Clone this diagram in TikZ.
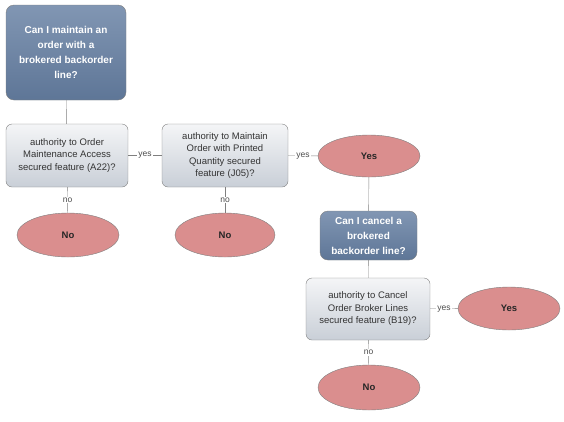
\documentclass[tikz,border=0pt]{standalone}
\usepackage{fontspec}
\setmainfont{Liberation Sans}
\usetikzlibrary{shapes.geometric}
\definecolor{qtop}{HTML}{8196B3}
\definecolor{qbot}{HTML}{5E7697}
\definecolor{gtop}{HTML}{F4F5F7}
\definecolor{gbot}{HTML}{C9CFD7}
\definecolor{ell}{HTML}{DA8E8E}
\definecolor{edge}{HTML}{7F7F7F}
\begin{document}
\begin{tikzpicture}[x=1pt,y=-1pt,
 q/.style={draw=edge,rounded corners=8pt,top color=qtop,bottom color=qbot,text=white,font=\bfseries\fontsize{10}{15}\selectfont,align=center},
 g/.style={draw=edge,rounded corners=6pt,top color=gtop,bottom color=gbot,text=black!80,font=\fontsize{9.5}{12.5}\selectfont,align=center},
 e/.style={draw=edge,ellipse,fill=ell,font=\bfseries\fontsize{9.5}{11}\selectfont,text=black!85},
 ln/.style={draw=edge},
 lab/.style={fill=white,inner sep=1pt,font=\fontsize{8.5}{9}\selectfont,text=black!70}]
\useasboundingbox (0,0) rectangle (564,421);
\node[q,minimum width=120pt,minimum height=95pt] (top) at (66,52.5) {Can I maintain an\\order with a\\brokered backorder\\line?};
\node[g,minimum width=122pt,minimum height=63pt] (a) at (67,155.5) {authority to Order\\Maintenance Access\\secured feature (A22)?};
\node[g,minimum width=126pt,minimum height=63pt] (b) at (225,155.5) {authority to Maintain\\Order with Printed\\Quantity secured\\feature (J05)?};
\node[e,minimum width=102pt,minimum height=42pt] (y1) at (369,156) {Yes};
\node[e,minimum width=102pt,minimum height=44pt] (n1) at (68,235) {No};
\node[e,minimum width=100pt,minimum height=44pt] (n2) at (225,235) {No};
\node[q,minimum width=97pt,minimum height=49pt] (c) at (368.5,235.5) {Can I cancel a\\brokered\\backorder line?};
\node[g,minimum width=124pt,minimum height=62pt] (d) at (368,309) {authority to Cancel\\Order Broker Lines\\secured feature (B19)?};
\node[e,minimum width=102pt,minimum height=43pt] (y2) at (509,308.5) {Yes};
\node[e,minimum width=102pt,minimum height=45pt] (n3) at (369,387.5) {No};
\draw[ln] (top) -- (a);
\draw[ln] (a) -- node[lab]{yes} (b);
\draw[ln] (b) -- node[lab]{yes} (y1);
\draw[ln] (a) -- node[lab]{no} (n1);
\draw[ln] (b) -- node[lab]{no} (n2);
\draw[ln] (y1) -- (c);
\draw[ln] (c) -- (d);
\draw[ln] (d) -- node[lab]{yes} (y2);
\draw[ln] (d) -- node[lab]{no} (n3);
\end{tikzpicture}
\end{document}
